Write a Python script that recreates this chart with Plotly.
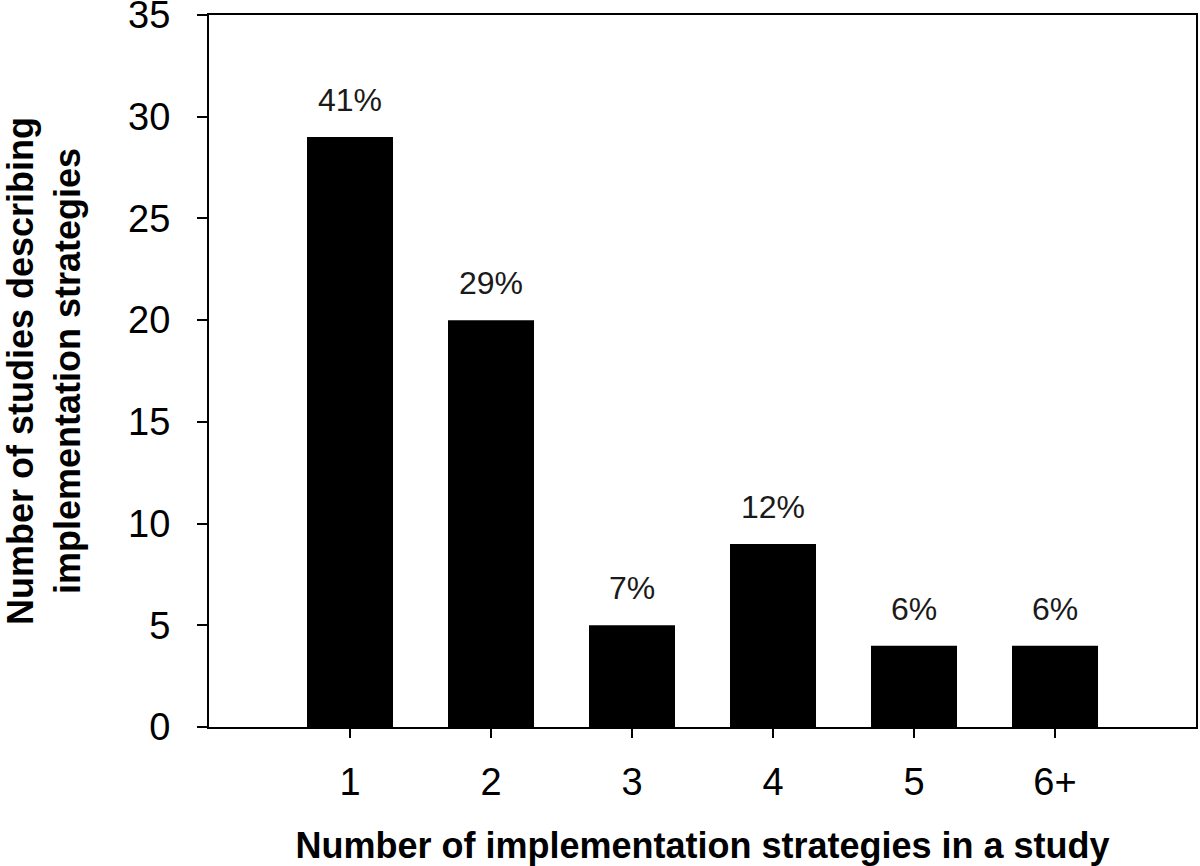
import plotly.graph_objects as go

categories = ["1", "2", "3", "4", "5", "6+"]
x_positions = [1, 2, 3, 4, 5, 6]
counts = [29, 20, 5, 9, 4, 4]
percent_labels = ["41%", "29%", "7%", "12%", "6%", "6%"]
y_ticks = [0, 5, 10, 15, 20, 25, 30, 35]

FONT = "Arial, Liberation Sans, Helvetica, sans-serif"

fig = go.Figure()
fig.add_trace(go.Bar(
    x=x_positions, y=counts, width=0.61,
    marker=dict(color="black", line=dict(width=0)),
    hoverinfo="skip",
))

for xv, yv, lab in zip(x_positions, counts, percent_labels):
    fig.add_annotation(
        x=xv, y=yv, text=lab, showarrow=False,
        xanchor="center", yanchor="bottom", yshift=17,
        font=dict(family=FONT, size=32, color="#1a1a1a"),
    )

fig.update_layout(
    width=1200, height=866,
    margin=dict(l=209, r=4, t=15, b=139),
    plot_bgcolor="white", paper_bgcolor="white",
    showlegend=False,
    font=dict(family=FONT, color="black"),
    xaxis=dict(
        range=[0, 7], tickmode="array", tickvals=x_positions, ticktext=categories,
        ticks="outside", ticklen=9, tickwidth=2, tickcolor="black",
        showline=True, linecolor="black", linewidth=2, mirror=True,
        showgrid=False, zeroline=False, automargin=False,
        tickfont=dict(size=38), ticklabelstandoff=11,
        title=dict(text="<b>Number of implementation strategies in a study</b>",
                   font=dict(size=36), standoff=37),
    ),
    yaxis=dict(
        range=[0, 35], tickmode="array", tickvals=y_ticks,
        ticks="outside", ticklen=10, tickwidth=2, tickcolor="black",
        showline=True, linecolor="black", linewidth=2, mirror=True,
        showgrid=False, zeroline=False, automargin=False,
        tickfont=dict(size=38), ticklabelstandoff=19,
        ticklabeloverflow="allow",
        title=dict(text="<b>Number of studies describing<br>implementation strategies</b>",
                   font=dict(size=36), standoff=65),
    ),
)

fig.write_html("out.html", config={"displayModeBar": False},
               post_script="document.body.style.margin='0px';")
